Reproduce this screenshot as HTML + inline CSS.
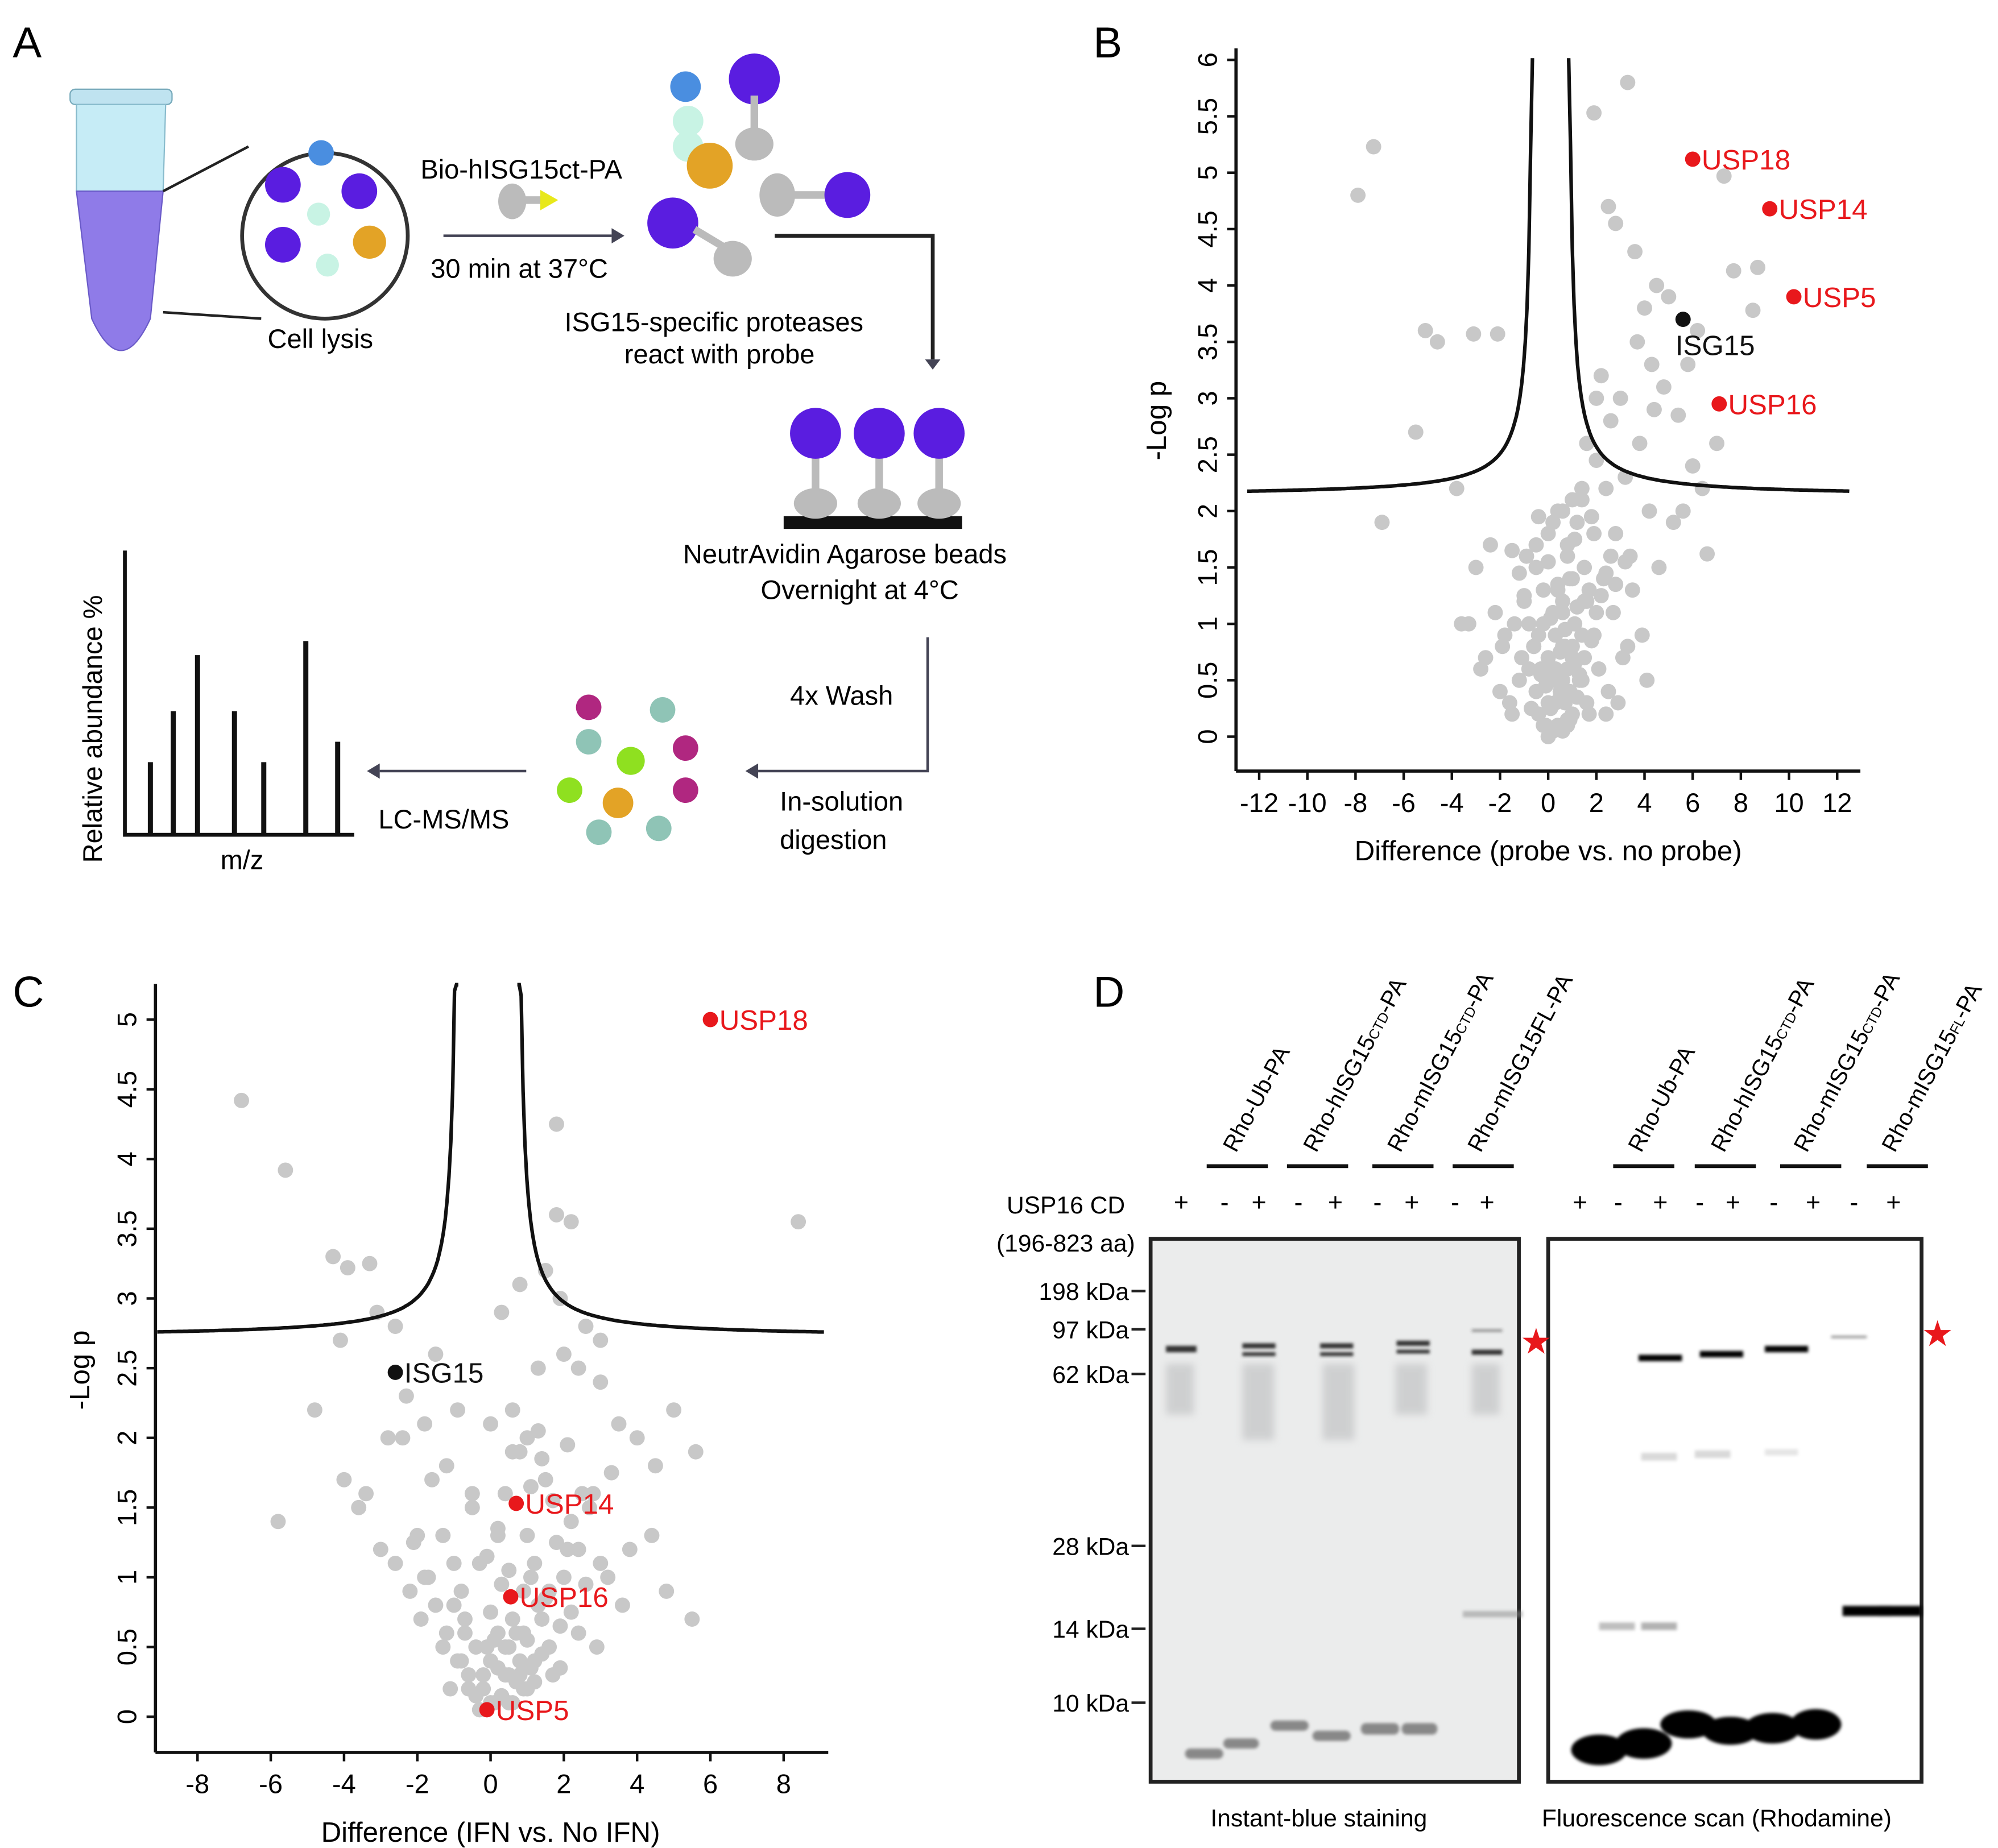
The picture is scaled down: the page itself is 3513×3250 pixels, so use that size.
<!DOCTYPE html>
<html><head><meta charset="utf-8"><style>
html,body{margin:0;padding:0;background:#fff;}
svg{display:block;}
text{font-family:"Liberation Sans",sans-serif;}
</style></head><body>
<svg id="fig" width="3513" height="3250" viewBox="0 0 1568 1450" preserveAspectRatio="none" xmlns="http://www.w3.org/2000/svg">
<rect width="1568" height="1450" fill="#fff"/>
<text x="10" y="45" font-size="34">A</text>
<text x="858" y="45" font-size="34">B</text>
<text x="10" y="790" font-size="34">C</text>
<text x="858" y="790" font-size="34">D</text>

<g>
 <rect x="55" y="70" width="80" height="12" rx="4" fill="#bfe3f0" stroke="#7ab" />
 <path d="M60 82 L130 82 L128 150 L60 150 Z" fill="#c6ecf6" stroke="#8bc"/>
 <path d="M60 150 L128 150 L118 250 Q95 300 72 250 Z" fill="#8f7be8" stroke="#6a5ac8"/>
 <line x1="128" y1="150" x2="195" y2="115" stroke="#222" stroke-width="2"/>
 <line x1="128" y1="245" x2="205" y2="250" stroke="#222" stroke-width="2"/>
 <circle cx="255" cy="185" r="65" fill="#fff" stroke="#333" stroke-width="3"/>
 <circle cx="252" cy="120" r="10" fill="#4a8ee0"/>
 <circle cx="222" cy="145" r="14" fill="#5a1de0"/><circle cx="282" cy="150" r="14" fill="#5a1de0"/>
 <circle cx="222" cy="192" r="14" fill="#5a1de0"/><circle cx="290" cy="190" r="13" fill="#e3a326"/>
 <circle cx="250" cy="168" r="9" fill="#c8f3e4"/><circle cx="257" cy="208" r="9" fill="#c8f3e4"/>
 <text x="210" y="273" font-size="21">Cell lysis</text>
 <text x="330" y="140" font-size="21">Bio-hISG15ct-PA</text>
 <ellipse cx="402" cy="158" rx="11" ry="14" fill="#bbb"/><rect x="410" y="154" width="15" height="6" fill="#bbb"/><path d="M424 149 L438 157 L424 165Z" fill="#e8e81a"/>
 <line x1="348" y1="185" x2="480" y2="185" stroke="#445" stroke-width="2"/><path d="M480 179 L490 185 L480 191Z" fill="#445"/>
 <text x="338" y="218" font-size="21">30 min at 37°C</text>
 <circle cx="538" cy="68" r="12" fill="#4a8ee0"/><circle cx="540" cy="95" r="12" fill="#c8f3e4"/><circle cx="540" cy="115" r="12" fill="#c8f3e4"/>
 <circle cx="557" cy="130" r="18" fill="#e3a326"/>
 <circle cx="592" cy="62" r="20" fill="#5a1de0"/><rect x="589" y="75" width="6" height="30" fill="#bbb"/><ellipse cx="592" cy="113" rx="15" ry="13" fill="#bbb"/>
 <ellipse cx="610" cy="153" rx="14" ry="17" fill="#bbb"/><rect x="620" y="150" width="30" height="6" fill="#bbb"/><circle cx="665" cy="153" r="18" fill="#5a1de0"/>
 <circle cx="528" cy="175" r="20" fill="#5a1de0"/><line x1="545" y1="180" x2="570" y2="195" stroke="#bbb" stroke-width="6"/><ellipse cx="575" cy="203" rx="15" ry="14" fill="#bbb"/>
 <path d="M608 185 L732 185 L732 282" fill="none" stroke="#222" stroke-width="3"/><path d="M726 282 L732 290 L738 282Z" fill="#445"/>
 <text x="443" y="260" font-size="21">ISG15-specific proteases</text>
 <text x="490" y="285" font-size="21">react with probe</text>
 <rect x="615" y="405" width="140" height="10" fill="#111"/>
 <g fill="#bbb"><ellipse cx="640" cy="395" rx="17" ry="12"/><ellipse cx="690" cy="395" rx="17" ry="12"/><ellipse cx="737" cy="395" rx="17" ry="12"/>
 <rect x="637" y="355" width="6" height="30"/><rect x="687" y="355" width="6" height="30"/><rect x="734" y="355" width="6" height="30"/></g>
 <circle cx="640" cy="340" r="20" fill="#5a1de0"/><circle cx="690" cy="340" r="20" fill="#5a1de0"/><circle cx="737" cy="340" r="20" fill="#5a1de0"/>
 <text x="536" y="442" font-size="21">NeutrAvidin Agarose beads</text>
 <text x="597" y="470" font-size="21">Overnight at 4°C</text>
 <path d="M728 500 L728 605 L595 605" fill="none" stroke="#445" stroke-width="2"/><path d="M595 599 L585 605 L595 611Z" fill="#445"/>
 <text x="620" y="553" font-size="21">4x Wash</text>
 <text x="612" y="636" font-size="21">In-solution</text>
 <text x="612" y="666" font-size="21">digestion</text>
 <g><circle cx="462" cy="555" r="10" fill="#b02780"/><circle cx="520" cy="557" r="10" fill="#8fc4b6"/><circle cx="462" cy="582" r="10" fill="#8fc4b6"/><circle cx="495" cy="597" r="11" fill="#8fe020"/><circle cx="538" cy="587" r="10" fill="#b02780"/><circle cx="447" cy="620" r="10" fill="#8fe020"/><circle cx="485" cy="630" r="12" fill="#e3a326"/><circle cx="538" cy="620" r="10" fill="#b02780"/><circle cx="470" cy="653" r="10" fill="#8fc4b6"/><circle cx="517" cy="650" r="10" fill="#8fc4b6"/></g>
 <line x1="413" y1="605" x2="298" y2="605" stroke="#445" stroke-width="2"/><path d="M298 599 L288 605 L298 611Z" fill="#445"/>
 <text x="297" y="650" font-size="21">LC-MS/MS</text>
 <path d="M98 432 L98 655 L278 655" fill="none" stroke="#111" stroke-width="3"/>
 <g stroke="#111" stroke-width="4"><line x1="118" y1="655" x2="118" y2="598"/><line x1="136" y1="655" x2="136" y2="558"/><line x1="155" y1="655" x2="155" y2="514"/><line x1="184" y1="655" x2="184" y2="558"/><line x1="207" y1="655" x2="207" y2="598"/><line x1="240" y1="655" x2="240" y2="503"/><line x1="265" y1="655" x2="265" y2="582"/></g>
 <text x="173" y="682" font-size="21">m/z</text>
 <text transform="translate(80,677) rotate(-90)" font-size="21">Relative abundance %</text>
</g>

<g id="chartB"></g>
<g id="chartC"></g>

<g font-size="17">
 <defs><filter id="bl"><feGaussianBlur stdDeviation="1.2"/></filter><filter id="bl2"><feGaussianBlur stdDeviation="3"/></filter></defs>
 <rect x="903" y="972" width="289" height="426" fill="#ebecec" stroke="#222" stroke-width="3"/>
 <rect x="1215" y="972" width="293" height="426" fill="#fff" stroke="#222" stroke-width="3"/>
 <g filter="url(#bl2)" fill="#c8c9ca" opacity="0.8">
  <rect x="915" y="1070" width="22" height="40"/><rect x="975" y="1070" width="25" height="60"/><rect x="1038" y="1070" width="25" height="60"/><rect x="1095" y="1070" width="25" height="40"/><rect x="1155" y="1070" width="22" height="40"/>
 </g>
 <g filter="url(#bl)" fill="#333">
  <rect x="915" y="1056" width="24" height="5"/><rect x="975" y="1054" width="26" height="4"/><rect x="975" y="1061" width="26" height="3"/>
  <rect x="1036" y="1054" width="26" height="4"/><rect x="1036" y="1061" width="26" height="3"/><rect x="1096" y="1052" width="26" height="4"/><rect x="1096" y="1059" width="26" height="3"/>
  <rect x="1155" y="1059" width="24" height="4"/><rect x="1155" y="1043" width="24" height="2" opacity="0.5"/>
 </g>
 <g filter="url(#bl)" fill="#888">
  <rect x="930" y="1372" width="30" height="8" rx="4"/><rect x="960" y="1364" width="28" height="8" rx="4"/><rect x="997" y="1350" width="30" height="8" rx="4"/><rect x="1030" y="1358" width="30" height="8" rx="4"/><rect x="1068" y="1352" width="30" height="9" rx="4"/><rect x="1100" y="1352" width="28" height="9" rx="4"/>
  <rect x="1148" y="1264" width="25" height="5" opacity="0.5"/><rect x="1173" y="1264" width="22" height="5" opacity="0.5"/>
 </g>
 <g filter="url(#bl)" fill="#000">
  <rect x="1286" y="1063" width="34" height="5"/><rect x="1334" y="1060" width="34" height="5"/><rect x="1385" y="1056" width="34" height="5"/><rect x="1437" y="1048" width="28" height="2" opacity="0.4"/>
  <rect x="1446" y="1260" width="38" height="8"/><rect x="1474" y="1260" width="34" height="8"/>
  <ellipse cx="1255" cy="1373" rx="22" ry="12"/><ellipse cx="1290" cy="1368" rx="22" ry="12"/><ellipse cx="1325" cy="1353" rx="22" ry="11"/><ellipse cx="1358" cy="1358" rx="22" ry="11"/><ellipse cx="1391" cy="1356" rx="22" ry="12"/><ellipse cx="1425" cy="1353" rx="20" ry="12"/>
  <rect x="1255" y="1273" width="28" height="6" opacity="0.25"/><rect x="1288" y="1273" width="28" height="6" opacity="0.3"/>
  <rect x="1288" y="1140" width="28" height="6" opacity="0.15"/><rect x="1330" y="1138" width="28" height="6" opacity="0.15"/><rect x="1385" y="1137" width="26" height="5" opacity="0.1"/>
 </g>
 <text x="1193" y="1062" font-size="28" fill="#e8181c">★</text>
 <text x="1508" y="1056" font-size="28" fill="#e8181c">★</text>
 <g text-anchor="end" font-size="19">
  <text x="886" y="1020">198 kDa</text><text x="886" y="1050">97 kDa</text><text x="886" y="1085">62 kDa</text><text x="886" y="1220">28 kDa</text><text x="886" y="1285">14 kDa</text><text x="886" y="1343">10 kDa</text>
 </g>
 <g stroke="#222" stroke-width="2"><line x1="888" y1="1013" x2="899" y2="1013"/><line x1="888" y1="1043" x2="899" y2="1043"/><line x1="888" y1="1078" x2="899" y2="1078"/><line x1="888" y1="1213" x2="899" y2="1213"/><line x1="888" y1="1278" x2="899" y2="1278"/><line x1="888" y1="1336" x2="899" y2="1336"/></g>
 <text x="790" y="952" font-size="19">USP16 CD</text><text x="782" y="982" font-size="19">(196-823 aa)</text>
 <g font-size="20" text-anchor="middle">
  <text x="927" y="950">+</text><text x="961" y="950">-</text><text x="988" y="950">+</text><text x="1019" y="950">-</text><text x="1048" y="950">+</text><text x="1081" y="950">-</text><text x="1108" y="950">+</text><text x="1142" y="950">-</text><text x="1167" y="950">+</text>
  <text x="1240" y="950">+</text><text x="1270" y="950">-</text><text x="1303" y="950">+</text><text x="1334" y="950">-</text><text x="1360" y="950">+</text><text x="1392" y="950">-</text><text x="1423" y="950">+</text><text x="1455" y="950">-</text><text x="1486" y="950">+</text>
 </g>
 <g stroke="#111" stroke-width="3"><line x1="947" y1="915" x2="995" y2="915"/><line x1="1010" y1="915" x2="1058" y2="915"/><line x1="1077" y1="915" x2="1125" y2="915"/><line x1="1140" y1="915" x2="1188" y2="915"/>
 <line x1="1266" y1="915" x2="1314" y2="915"/><line x1="1330" y1="915" x2="1378" y2="915"/><line x1="1397" y1="915" x2="1445" y2="915"/><line x1="1465" y1="915" x2="1513" y2="915"/></g>
 <g font-size="18">
  <text transform="translate(970,905) rotate(-62)">Rho-Ub-PA</text>
  <text transform="translate(1033,905) rotate(-62)">Rho-hISG15<tspan font-size="11">CTD</tspan>-PA</text>
  <text transform="translate(1099,905) rotate(-62)">Rho-mISG15<tspan font-size="11">CTD</tspan>-PA</text>
  <text transform="translate(1162,905) rotate(-62)">Rho-mISG15FL-PA</text>
  <text transform="translate(1288,905) rotate(-62)">Rho-Ub-PA</text>
  <text transform="translate(1353,905) rotate(-62)">Rho-hISG15<tspan font-size="11">CTD</tspan>-PA</text>
  <text transform="translate(1418,905) rotate(-62)">Rho-mISG15<tspan font-size="11">CTD</tspan>-PA</text>
  <text transform="translate(1487,905) rotate(-62)">Rho-mISG15<tspan font-size="11">FL</tspan>-PA</text>
 </g>
 <text x="950" y="1433" font-size="19">Instant-blue staining</text>
 <text x="1210" y="1433" font-size="19">Fluorescence scan (Rhodamine)</text>
</g>

<script>
// ---------- Panel B data ----------
const bGrayX = [-7.25,-7.9,3.3,1.9,7.3,2.5,2.8,-5.1,-4.6,-3.1,-2.1,8.7,7.7,8.5,6.6,-6.9,-5.5,-3.3,4.5,4.0,5.0,3.6,6.2,5.8,4.8,3.0,2.2,2.6,3.8,4.4,5.4,6.0,3.2,1.6,2.0,2.4,1.4,1.2,0.8,1.8,2.8,3.4,4.2,4.6,5.2,6.4,7.0,1.0,0.6,0.4,0.2,-0.2,-0.4,-0.6,-1.0,-1.4,-1.8,-2.2,-2.6,-3.0,-1.2,-0.8,0.0,0.3,0.7,1.1,1.5,1.9,2.3,2.7,3.1,3.5,3.9,-2.0,-1.6,-0.5,0.5,1.3,2.1,2.9,-3.6,-2.8,-2.4,-1.5,1.7,2.5,3.3,4.1,-1.1,-0.1,0.9,1.6,2.4,-0.7,0.1,0.8,1.4,-0.3,0.2,0.6,1.0,-0.9,-0.5,0.0,0.4,3.7,4.3,2.0,5.6,-3.8,-1.9,
 0.0,0.2,0.4,0.6,0.8,1.0,-0.2,-0.4,0.1,0.3,0.5,0.7,0.9,1.2,-0.1,0.2,0.4,0.6,0.8,1.1,1.3,-0.3,0.0,0.5,1.0,1.5,-0.6,0.3,0.7,1.4,1.8,-0.8,0.1,0.6,1.2,1.6,2.0,-1.0,-0.2,0.4,0.9,1.7,2.2,-1.2,0.0,0.8,1.5,2.4,2.8,-1.5,-0.5,1.1,1.9,2.6,3.2,0.2,0.6,1.0,-0.4,1.4];
const bGrayY = [5.23,4.8,5.8,5.53,4.97,4.7,4.55,3.6,3.5,3.57,3.57,4.16,4.13,3.78,1.62,1.9,2.7,1.0,4.0,3.8,3.9,4.3,3.6,3.3,3.1,3.0,3.2,2.8,2.6,2.9,2.85,2.4,2.3,2.6,2.45,2.2,2.1,1.9,1.7,1.95,1.8,1.6,2.0,1.5,1.9,2.2,2.6,1.4,1.2,1.3,1.1,1.0,0.9,0.8,1.2,1.0,0.9,1.1,0.7,1.5,0.5,0.6,0.3,0.6,0.8,1.0,1.2,0.9,1.4,1.1,0.7,1.3,0.9,0.4,0.3,0.4,0.4,0.5,0.6,0.3,1.0,0.6,1.7,0.2,0.2,0.4,0.8,0.5,0.7,0.1,0.15,0.3,0.2,0.25,0.05,0.1,0.5,0.55,0.6,0.8,0.7,1.6,1.5,1.8,2.0,3.5,3.3,3.0,2.0,2.2,0.8,
 0.0,0.05,0.1,0.05,0.15,0.2,0.1,0.2,0.25,0.3,0.35,0.3,0.4,0.35,0.45,0.5,0.55,0.5,0.6,0.65,0.55,0.6,0.7,0.75,0.8,0.7,0.8,0.9,0.95,0.9,0.85,1.0,1.05,1.1,1.15,1.2,1.1,1.25,1.3,1.35,1.4,1.3,1.25,1.45,1.55,1.6,1.5,1.45,1.35,1.65,1.7,1.75,1.8,1.6,1.55,1.9,2.0,2.1,1.95,2.2];
const bRedX = [6.0,9.2,10.2,7.1];
const bRedY = [5.12,4.68,3.9,2.95];
const bRedLabels = ["USP18","USP14","USP5","USP16"];
const bBlackX = [5.6]; const bBlackY = [3.7]; const bBlackLabels = ["ISG15"];
const bXTicks = [-12,-10,-8,-6,-4,-2,0,2,4,6,8,10,12];
const bYTicks = [0,0.5,1,1.5,2,2.5,3,3.5,4,4.5,5,5.5,6];
// ---------- Panel C data ----------
const cGrayX = [-6.8,-5.6,1.8,8.4,-4.3,-3.9,-3.3,-4.1,-3.1,-2.6,-2.3,-4.8,-4.0,-5.8,-3.6,-1.8,-1.2,-2.0,-1.5,-0.9,-0.5,0.3,0.8,1.3,1.8,2.2,2.6,3.0,3.5,4.0,4.5,5.0,5.6,5.5,1.5,1.0,2.5,3.8,4.8,2.0,-2.8,-3.0,-1.7,-1.0,-0.3,0.2,0.6,1.1,1.6,2.1,2.7,3.2,0.9,1.4,0.5,-0.7,-1.3,-2.2,0.0,0.4,1.2,2.4,3.6,-1.9,-0.6,0.7,1.7,2.9,-0.2,0.3,1.0,1.9,-1.1,-0.4,0.1,0.5,0.8,-0.1,0.2,-0.8,1.5,2.2,4.4,-3.4,-2.6,1.9,2.4,3.0,
 -0.3,0.0,0.3,0.6,0.9,1.2,-0.6,-0.2,0.2,0.5,0.8,1.1,1.4,-0.9,-0.4,0.1,0.4,0.7,1.0,1.6,-1.2,-0.7,0.0,0.6,1.3,1.9,-1.5,-0.8,0.3,0.9,1.5,2.2,-1.8,-1.0,-0.1,0.5,1.2,2.0,2.6,-2.1,-1.3,0.2,1.0,1.8,2.4,3.0,-0.5,0.4,1.1,1.7,-1.6,0.8,1.4,2.8,-2.4,0.0,0.6,1.3,2.1,3.3];
const cGrayY = [4.42,3.92,4.25,3.55,3.3,3.22,3.25,2.7,2.9,2.8,2.3,2.2,1.7,1.4,1.5,2.1,1.8,1.3,2.6,2.2,1.6,2.9,3.1,2.5,3.6,3.55,2.8,2.4,2.1,2.0,1.8,2.2,1.9,0.7,3.2,2.0,1.6,1.2,0.9,2.6,2.0,1.2,1.0,0.8,1.1,1.3,1.9,1.0,0.9,1.2,1.5,1.0,0.6,0.7,0.5,0.6,0.5,0.9,0.4,0.3,0.4,0.6,0.8,0.7,0.3,0.25,0.3,0.5,0.2,0.15,0.2,0.35,0.2,0.15,0.1,0.1,0.3,0.5,0.6,0.4,1.7,1.4,1.3,1.6,1.1,3.0,2.5,2.7,
 0.05,0.1,0.15,0.1,0.2,0.25,0.2,0.3,0.35,0.3,0.4,0.35,0.45,0.4,0.5,0.55,0.5,0.6,0.55,0.5,0.6,0.7,0.75,0.7,0.8,0.65,0.8,0.9,0.95,0.9,0.85,0.75,1.0,1.1,1.15,1.05,1.1,1.0,0.95,1.25,1.3,1.35,1.3,1.25,1.2,1.1,1.5,1.6,1.65,1.55,1.7,1.9,1.85,1.6,2.0,2.1,2.2,2.05,1.95,1.75];
const cRedX = [6.0,0.7,0.55,-0.1];
const cRedY = [5.0,1.53,0.86,0.05];
const cRedLabels = ["USP18","USP14","USP16","USP5"];
const cBlackX = [-2.6]; const cBlackY = [2.47]; const cBlackLabels = ["ISG15"];
const cXTicks = [-8,-6,-4,-2,0,2,4,6,8];
const cYTicks = [0,0.5,1,1.5,2,2.5,3,3.5,4,4.5,5];

const NS = "http://www.w3.org/2000/svg";
function mk(tag, attrs, parent){ const e=document.createElementNS(NS,tag); for(const k in attrs) e.setAttribute(k,attrs[k]); parent.appendChild(e); return e; }

function drawVolcano(g, cfg){
  const sx = v => cfg.x0 + v*cfg.kx;
  const sy = v => cfg.y0 - v*cfg.ky;
  const ax = mk('line',{x1:cfg.axX,y1:cfg.yTop,x2:cfg.axX,y2:cfg.axY,stroke:'#111','stroke-width':2.5},g);
  
  
  const bx = mk('line',{x1:cfg.axX,y1:cfg.axY,x2:cfg.xRight,y2:cfg.axY,stroke:'#111','stroke-width':2.5},g);
  
  
  cfg.xt.forEach(t=>{
    mk('line',{x1:sx(t),y1:cfg.axY,x2:sx(t),y2:cfg.axY+7,stroke:'#111','stroke-width':2},g);
    const tx = mk('text',{x:sx(t),y:cfg.axY+32,'font-size':21,'text-anchor':'middle'},g);
    tx.textContent = t;
    
    
  });
  cfg.yt.forEach(t=>{
    mk('line',{x1:cfg.axX-7,y1:sy(t),x2:cfg.axX,y2:sy(t),stroke:'#111','stroke-width':2},g);
    const tx = mk('text',{transform:`translate(${cfg.axX-15},${sy(t)}) rotate(-90)`,'font-size':21,'text-anchor':'middle'},g);
    tx.textContent = t;
    
    
  });
  const xl = mk('text',{x:cfg.xlX,y:cfg.axY+70,'font-size':22,'text-anchor':'middle'},g);
  xl.textContent = cfg.xlabel;
  
  
  const yl = mk('text',{transform:`translate(${cfg.ylX},${cfg.ylY}) rotate(-90)`,'font-size':22,'text-anchor':'middle'},g);
  yl.textContent = '-Log p';
  
  
  cfg.gx.forEach((v,i)=>{
    const c = mk('circle',{cx:sx(v),cy:sy(cfg.gy[i]),r:6,fill:'#c8c8c8'},g);
    
    
  });
  const pts = (side)=>{ let d=''; const xs=[];
    for(let k=0;k<=160;k++){ const u = side<0 ? cfg.xmin + (cfg.aL - 0.03 - cfg.xmin)*k/160 : cfg.xmax - (cfg.xmax - cfg.aR - 0.03)*k/160; xs.push(u);}
    xs.forEach((u,i)=>{ const dist = side<0 ? (cfg.aL - u) : (u - cfg.aR); let y = cfg.c0 + cfg.s/dist; if(y>cfg.ymax) y=cfg.ymax; d += (i?'L':'M')+sx(u).toFixed(1)+' '+sy(y).toFixed(1); });
    return d; };
  const l1 = mk('path',{d:pts(-1),fill:'none',stroke:'#111','stroke-width':2.8},g);
  
  
  const l2 = mk('path',{d:pts(1),fill:'none',stroke:'#111','stroke-width':2.8},g);
  
  
  const lab = (xs,ys,labs,col,nm)=>xs.forEach((v,i)=>{
    const c = mk('circle',{cx:sx(v),cy:sy(ys[i]),r:6,fill:col},g);
    
    
    const dx = nm==='isg15' && cfg.isgBelow ? -6 : 7;
    const dy = nm==='isg15' && cfg.isgBelow ? 28 : 8;
    const t = mk('text',{x:sx(v)+dx,y:sy(ys[i])+dy,'font-size':22,fill:col},g);
    t.textContent = labs[i];
    
    
  });
  lab(cfg.rx,cfg.ry,cfg.rl,'#e8181c','highlight');
  lab(cfg.kx2,cfg.ky2,cfg.kl,'#111','isg15');
}

drawVolcano(document.getElementById('chartB'),{
  x0:1215,kx:18.9,y0:578,ky:88.5,axX:970,axY:605,yTop:38,xRight:1460,
  xt:bXTicks,yt:bYTicks,xlabel:'Difference (probe vs. no probe)',xlX:1215,ylX:915,ylY:330,
  gx:bGrayX,gy:bGrayY,rx:bRedX,ry:bRedY,rl:bRedLabels,kx2:bBlackX,ky2:bBlackY,kl:bBlackLabels,
  xmin:-12.5,xmax:12.5,aL:-0.55,aR:0.75,c0:2.13,s:0.55,ymax:6.0,isgBelow:true
});
drawVolcano(document.getElementById('chartC'),{
  x0:385,kx:28.75,y0:1347,ky:109.4,axX:122,axY:1375,yTop:772,xRight:650,
  xt:cXTicks,yt:cYTicks,xlabel:'Difference (IFN vs. No IFN)',xlX:385,ylX:70,ylY:1075,
  gx:cGrayX,gy:cGrayY,rx:cRedX,ry:cRedY,rl:cRedLabels,kx2:cBlackX,ky2:cBlackY,kl:cBlackLabels,
  xmin:-9.1,xmax:9.1,aL:-0.85,aR:0.7,c0:2.72,s:0.33,ymax:5.25,isgBelow:false
});
</script>
</svg>
</body></html>
